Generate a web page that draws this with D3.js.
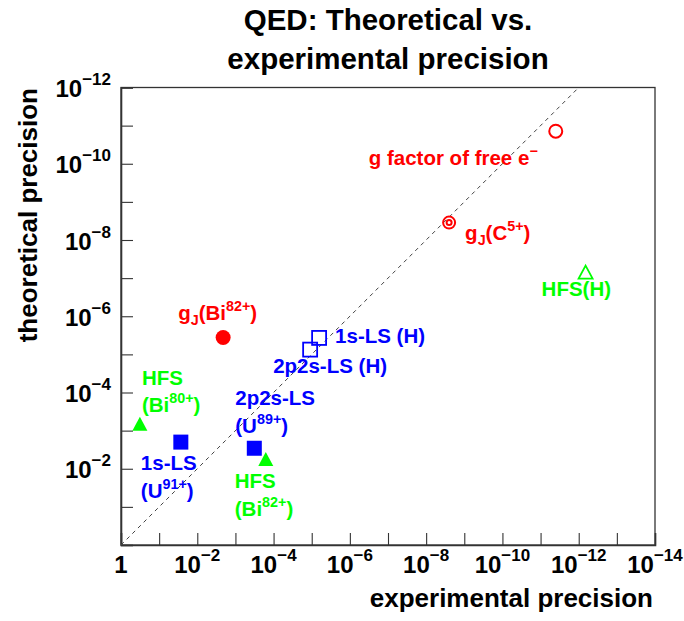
<!DOCTYPE html>
<html>
<head>
<meta charset="utf-8">
<script src="https://cdn.jsdelivr.net/npm/d3@7"></script>
<style>
  html, body { margin: 0; padding: 0; background: #fff; }
  svg { display: block; font-family: "Liberation Sans", Arial, Helvetica, sans-serif; font-weight: bold; }
</style>
</head>
<body>
<svg id="chart" width="684" height="621"></svg>
<script>
// ---- data ----
const names = ["g factor of free e", "gJ(C5+)", "HFS(H)", "gJ(Bi82+)", "1s-LS (H)", "2p2s-LS (H)",
               "HFS(Bi80+)", "1s-LS (U91+)", "2p2s-LS (U89+)", "HFS(Bi82+)"];
const experimentalPrecision = [4e-12, 2.5e-9, 6.6e-13, 2.1e-3, 6.4e-6, 1.1e-5, 0.32, 0.027, 3.2e-4, 1.6e-4];
const theoreticalPrecision  = [1.4e-11, 3.5e-9, 7.4e-8, 3.6e-6, 3.7e-6, 7.5e-6, 7e-4, 2.0e-3, 2.9e-3, 5.9e-3];
const markerShapes = ["openCircle", "doubleCircle", "openTriangle", "filledCircle", "openSquare", "openSquare",
                      "filledTriangle", "filledSquare", "filledSquare", "filledTriangle"];
const groupColors = ["#ff0000", "#ff0000", "#00ff00", "#ff0000", "#0000ff", "#0000ff",
                     "#00ff00", "#0000ff", "#0000ff", "#00ff00"];
// label text lines (markup: ^{sup}, _{sub})
const labelLines = [
  ["g factor of free e^{\u2212}"],
  ["g_{J}(C^{5+})"],
  ["HFS(H)"],
  ["g_{J}(Bi^{82+})"],
  ["1s-LS (H)"],
  ["2p2s-LS (H)"],
  ["HFS", "(Bi^{80+})"],
  ["1s-LS", "(U^{91+})"],
  ["2p2s-LS", "(U^{89+})"],
  ["HFS", "(Bi^{82+})"]
];
const xTickExponents = [0, -2, -4, -6, -8, -10, -12, -14];
const yTickExponents = [-2, -4, -6, -8, -10, -12];
const titleLines = ["QED: Theoretical vs.", "experimental precision"];
const xTitle = "experimental precision";
const yTitle = "theoretical precision";

// ---- layout (pixel offsets of labels relative to their marker) ----
const labelOffsets = [[-187, 34], [16, 17], [-44, 23], [-45, -17], [16, 5], [-37, 23],
                      [2, -40], [-40, 28], [-19, -43], [-31, 28]];
const lineGap = 27.5;
const labelSize = 20.5;

const svg = d3.select("#chart");
const pLeft = 121, pRight = 655, pTop = 87.5, pBottom = 545;

const x = d3.scaleLog().domain([1, 1e-14]).range([pLeft, pRight]);
const y = d3.scaleLog().domain([1, 1e-12]).range([pBottom, pTop]);

// frame
svg.append("rect").attr("x", pLeft).attr("y", pTop).attr("width", pRight - pLeft).attr("height", pBottom - pTop)
  .attr("fill", "none").attr("stroke", "#333").attr("stroke-width", 1.3);

// ticks (every decade; labels only at even decades)
const xDecades = d3.range(0, -15, -1).map(e => Math.pow(10, e));
const yDecades = d3.range(0, -13, -1).map(e => Math.pow(10, e));

const xAxis = d3.axisBottom(x).tickValues(xDecades).tickSize(-12).tickFormat("");
const gx = svg.append("g").attr("transform", `translate(0,${pBottom})`).call(xAxis);
const yAxis = d3.axisLeft(y).tickValues(yDecades).tickSize(-12).tickFormat("");
const gy = svg.append("g").attr("transform", `translate(${pLeft},0)`).call(yAxis);
[gx, gy].forEach(g => {
  g.select(".domain").attr("stroke", "#333").attr("stroke-width", 1.6);
  g.selectAll(".tick line").attr("stroke", "#333").attr("stroke-width", 1.1);
});

function powLabel(sel, e) {
  if (e === 0) { sel.append("tspan").text("1"); return; }
  sel.append("tspan").text("10");
  sel.append("tspan").attr("font-size", 17).attr("dy", -12).text("\u2212" + (-e));
}

// x tick labels
xTickExponents.forEach(e => {
  const t = svg.append("text").attr("x", x(Math.pow(10, e))).attr("y", 573)
    .attr("text-anchor", "middle").attr("font-size", 24).attr("fill", "#000");
  powLabel(t, e);
});
// y tick labels
yTickExponents.forEach(e => {
  const t = svg.append("text").attr("x", 111).attr("y", y(Math.pow(10, e)) + 9.5)
    .attr("text-anchor", "end").attr("font-size", 24).attr("fill", "#000");
  powLabel(t, e);
});

// diagonal y = x
svg.append("line")
  .attr("x1", x(1)).attr("y1", y(1)).attr("x2", x(1e-12)).attr("y2", y(1e-12))
  .attr("stroke", "#444").attr("stroke-width", 1).attr("stroke-dasharray", "4,4");

// markers
const pts = names.map((n, i) => ({
  name: n, ex: experimentalPrecision[i], th: theoreticalPrecision[i],
  shape: markerShapes[i], color: groupColors[i], lines: labelLines[i], off: labelOffsets[i]
}));

const gm = svg.append("g");
pts.forEach(p => {
  const cx = x(p.ex), cy = y(p.th), c = p.color;
  switch (p.shape) {
    case "openCircle":
      gm.append("circle").attr("cx", cx).attr("cy", cy).attr("r", 6.5).attr("fill", "none").attr("stroke", c).attr("stroke-width", 2); break;
    case "doubleCircle":
      gm.append("circle").attr("cx", cx).attr("cy", cy).attr("r", 6).attr("fill", "none").attr("stroke", c).attr("stroke-width", 2);
      gm.append("circle").attr("cx", cx).attr("cy", cy).attr("r", 2.5).attr("fill", "none").attr("stroke", c).attr("stroke-width", 2); break;
    case "filledCircle":
      gm.append("circle").attr("cx", cx).attr("cy", cy).attr("r", 7.5).attr("fill", c); break;
    case "openSquare":
      gm.append("rect").attr("x", cx - 7).attr("y", cy - 7).attr("width", 14).attr("height", 14).attr("fill", "none").attr("stroke", c).attr("stroke-width", 1.8); break;
    case "filledSquare":
      gm.append("rect").attr("x", cx - 7.5).attr("y", cy - 7.5).attr("width", 15).attr("height", 15).attr("fill", c); break;
    case "filledTriangle":
      gm.append("path").attr("d", `M${cx},${cy - 8}L${cx + 7.5},${cy + 6}L${cx - 7.5},${cy + 6}Z`).attr("fill", c); break;
    case "openTriangle":
      gm.append("path").attr("d", `M${cx},${cy - 7.5}L${cx + 7},${cy + 5.5}L${cx - 7},${cy + 5.5}Z`).attr("fill", "none").attr("stroke", c).attr("stroke-width", 1.8); break;
  }
});

// rich text helper
function richText(sel, str, base) {
  const re = /(\^\{[^}]*\}|_\{[^}]*\})/g;
  const parts = str.split(re).filter(s => s.length);
  let shift = 0;
  parts.forEach(s => {
    if (s.startsWith("^{")) {
      const dy = -9 - shift; shift = -9;
      sel.append("tspan").attr("font-size", base * 0.7).attr("dy", dy).text(s.slice(2, -1));
    } else if (s.startsWith("_{")) {
      const dy = 5 - shift; shift = 5;
      sel.append("tspan").attr("font-size", base * 0.7).attr("dy", dy).text(s.slice(2, -1));
    } else {
      const dy = -shift; shift = 0;
      sel.append("tspan").attr("dy", dy).text(s);
    }
  });
}

// labels
pts.forEach(p => {
  const lx = x(p.ex) + p.off[0], ly = y(p.th) + p.off[1];
  p.lines.forEach((ln, k) => {
    const t = svg.append("text").attr("x", lx).attr("y", ly + k * lineGap)
      .attr("font-size", labelSize).attr("fill", p.color);
    richText(t, ln, labelSize);
  });
});

// titles
titleLines.forEach((ln, k) => {
  svg.append("text").attr("x", 388).attr("y", 30 + k * 38.5)
    .attr("text-anchor", "middle").attr("font-size", 29.5).attr("fill", "#000").text(ln);
});
svg.append("text").attr("x", 653).attr("y", 607).attr("text-anchor", "end")
  .attr("font-size", 26).attr("fill", "#000").text(xTitle);
svg.append("text").attr("transform", `translate(37,88) rotate(-90)`).attr("text-anchor", "end")
  .attr("font-size", 26).attr("fill", "#000").text(yTitle);
</script>
</body>
</html>
